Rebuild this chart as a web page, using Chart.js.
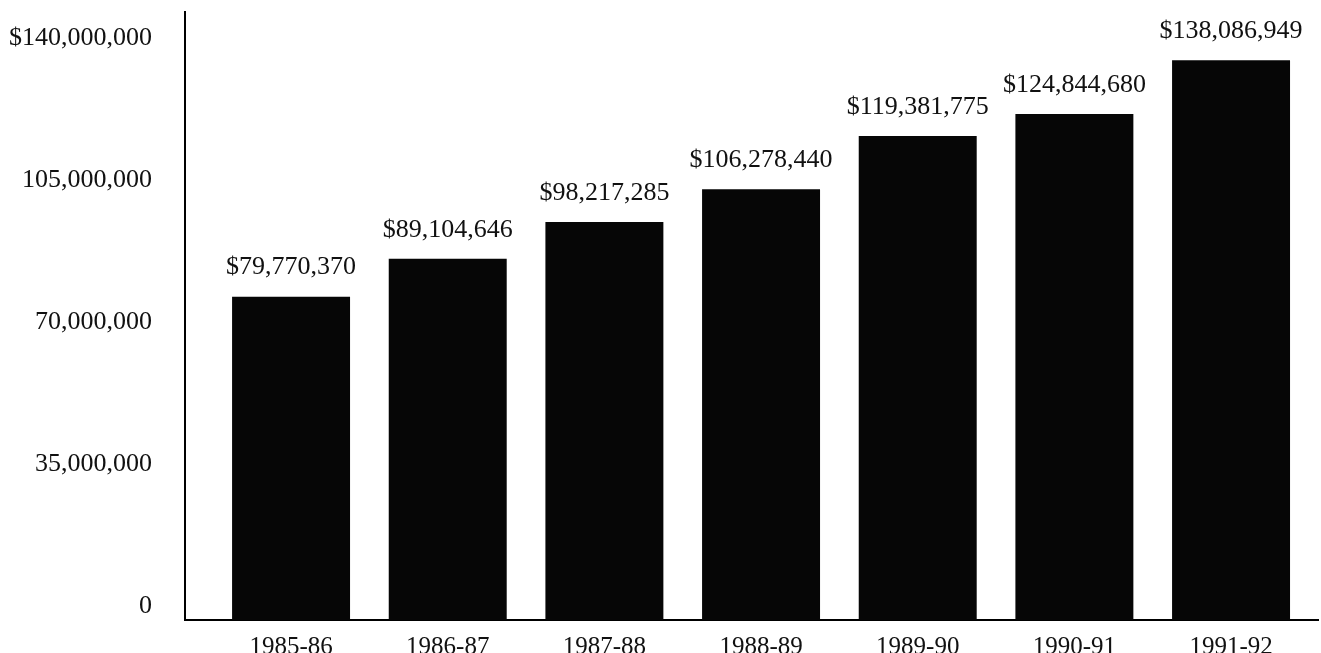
<!DOCTYPE html>
<html>
<head>
<meta charset="utf-8">
<script src="https://cdn.jsdelivr.net/npm/chart.js@4"></script>
<style>
  html, body { margin: 0; padding: 0; background: #fff; }
  #wrap { width: 1321px; height: 653px; }
</style>
</head>
<body>
<div id="wrap"><canvas id="budgetChart" width="1321" height="653"></canvas></div>
<script>
// yearly totals

const yearLabels = ["1985-86", "1986-87", "1987-88", "1988-89", "1989-90", "1990-91", "1991-92"];
const totals = [79770370, 89104646, 98217285, 106278440, 119381775, 124844680, 138086949];
const yTickValues = [0, 35000000, 70000000, 105000000, 140000000];

const serif = "'Liberation Serif', 'DejaVu Serif', serif";

// value labels above each bar
const barValueLabels = {
    id: "barValueLabels",
    afterDatasetsDraw(chart) {
        const ctx = chart.ctx;
        const meta = chart.getDatasetMeta(0);
        ctx.save();
        ctx.font = "26px " + serif;
        ctx.fillStyle = "#111";
        ctx.textAlign = "center";
        ctx.textBaseline = "bottom";
        meta.data.forEach((bar, i) => {
            ctx.fillText("$" + totals[i].toLocaleString("en-US"), bar.x, bar.y - 16);
        });
        ctx.restore();
    }
};

const points = totals.map((v, i) => ({ x: i, y: v }));

new Chart("budgetChart", {
    type: "bar",
    data: {
        datasets: [{
            data: points,
            backgroundColor: "#060606",
            borderWidth: 0,
            barPercentage: 0.753,
            categoryPercentage: 1
        }]
    },
    options: {
        responsive: false,
        animation: false,
        layout: { padding: { top: 12, right: 3, left: 0, bottom: 0 } },
        plugins: {
            legend: { display: false },
            tooltip: { enabled: false }
        },
        scales: {
            x: {
                type: "linear",
                offset: false,
                min: -0.677,
                max: 6.555,
                grid: { display: false },
                border: { display: true, color: "#000", width: 2 },
                afterBuildTicks: (scale) => {
                    scale.ticks = yearLabels.map((l, i) => ({ value: i }));
                },
                afterFit: (scale) => {
                    scale.height = 33;
                    scale.paddingLeft = 0;
                    scale.paddingRight = 0;
                },
                ticks: {
                    padding: 4,
                    color: "#111",
                    font: { family: serif, size: 25 },
                    maxRotation: 0,
                    autoSkip: false,
                    callback: (v) => yearLabels[v]
                }
            },
            y: {
                min: 0,
                max: 150000000,
                grid: { display: false },
                border: { display: true, color: "#000", width: 2 },
                afterBuildTicks: (scale) => {
                    scale.ticks = yTickValues.map(v => ({ value: v }));
                },
                afterFit: (scale) => {
                    scale.width = 185;
                    scale.paddingTop = 0;
                    scale.paddingBottom = 0;
                },
                ticks: {
                    padding: 25,
                    labelOffset: -14,
                    color: "#111",
                    font: { family: serif, size: 26 },
                    callback: (v) => {
                        if (v === 0) return "0";
                        const s = v.toLocaleString("en-US");
                        return v === 140000000 ? "$" + s : s;
                    }
                }
            }
        }
    },
    plugins: [barValueLabels]
});
</script>
</body>
</html>
